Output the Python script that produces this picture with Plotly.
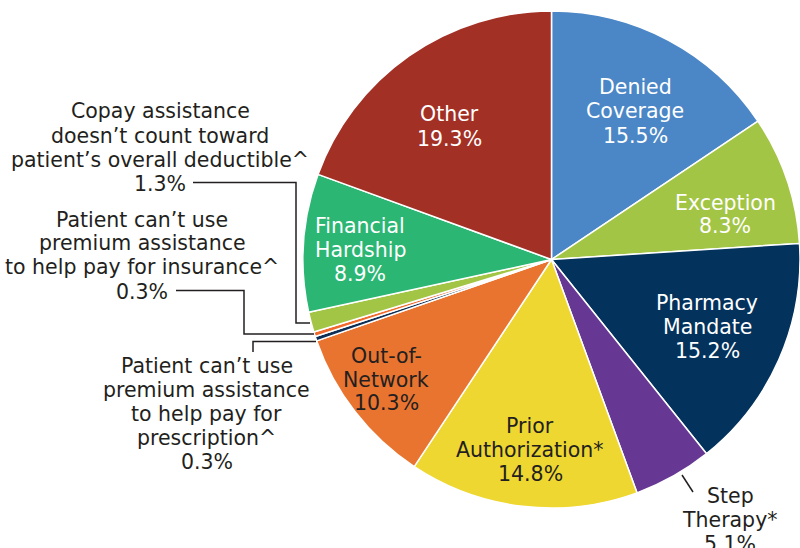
import plotly.graph_objects as go

# Slices, clockwise from 12 o'clock
categories = [
    "Denied\nCoverage",
    "Exception",
    "Pharmacy\nMandate",
    "Step\nTherapy*",
    "Prior\nAuthorization*",
    "Out-of-\nNetwork",
    "Patient can\u2019t use\npremium assistance\nto help pay for\nprescription^",
    "Patient can\u2019t use\npremium assistance\nto help pay for insurance^",
    "Copay assistance\ndoesn\u2019t count toward\npatient\u2019s overall deductible^",
    "Financial\nHardship",
    "Other",
]
shares = [15.5, 8.3, 15.2, 5.1, 14.8, 10.3, 0.3, 0.3, 1.3, 8.9, 19.3]
colors = [
    "#4b87c6", "#a3c545", "#03325c", "#663894", "#efd731", "#e97430",
    "#0d2f55", "#ef6a2c", "#a3c545", "#2bb673", "#a33025",
]
label_colors = [
    "white", "white", "white", "#231f20", "#231f20", "#231f20",
    "#231f20", "#231f20", "#231f20", "white", "white",
]

W, H = 800, 548
LINE_GAP = 24  # px between text lines
FONT = dict(family="DejaVu Sans", size=20.5)

# label centres in pixels (x, y of middle of the text block)
label_pos = [
    (635, 111.5), (725, 214.5), (707, 326.5), (730, 519.5), (530, 449.5),
    (386, 379.5), (207, 413.5), (142, 255.5), (160, 147.5), (360, 249.5),
    (449, 126.5),
]

fig = go.Figure(
    go.Pie(
        labels=[c.replace("\n", " ") for c in categories],
        values=shares,
        sort=False,
        direction="clockwise",
        rotation=0,
        textinfo="none",
        hoverinfo="label+percent",
        marker=dict(colors=colors, line=dict(color="white", width=1.5)),
        domain=dict(x=[303 / W, 1.0], y=[(H - 509) / H, (H - 10) / H]),
        showlegend=False,
    )
)

# one annotation per text line so the line spacing can be set exactly
annotations = []
for cat, val, col, (px, py) in zip(categories, shares, label_colors, label_pos):
    lines = cat.split("\n") + [f"{val}%"]
    n = len(lines)
    for i, line in enumerate(lines):
        ly = py + (i - (n - 1) / 2) * LINE_GAP
        annotations.append(
            dict(
                x=px / W, y=1 - ly / H, xref="paper", yref="paper",
                text=line, showarrow=False, align="center",
                xanchor="center", yanchor="middle",
                font=dict(**FONT, color=col),
            )
        )


def path(points):
    d = "M " + " L ".join(f"{x / W:.5f},{1 - y / H:.5f}" for x, y in points)
    return dict(type="path", path=d, xref="paper", yref="paper",
                line=dict(color="#231f20", width=1.5))


shapes = [
    path([(193, 182.5), (296, 182.5), (296, 323), (310, 323)]),
    path([(176, 290.5), (244, 290.5), (244, 334), (314, 334)]),
    path([(253, 352), (253, 341.5), (316, 341.5)]),
    path([(682, 475), (693, 492)]),
]

fig.update_layout(
    width=W, height=H,
    margin=dict(l=0, r=0, t=0, b=0),
    paper_bgcolor="white", plot_bgcolor="white",
    annotations=annotations, shapes=shapes,
)

fig.write_html("out.html")
